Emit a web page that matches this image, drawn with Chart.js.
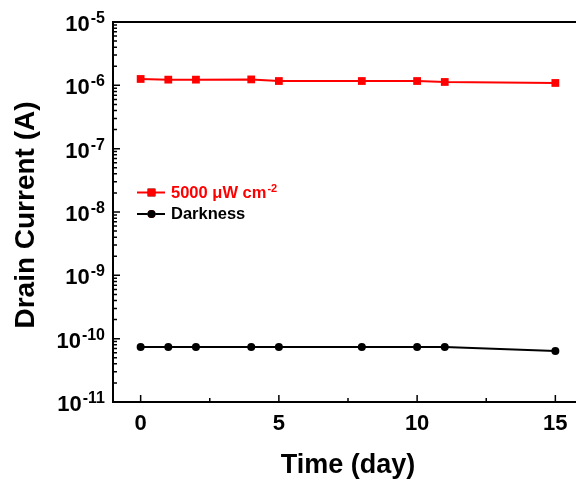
<!DOCTYPE html>
<html>
<head>
<meta charset="utf-8">
<script src="https://cdn.jsdelivr.net/npm/chart.js@4/dist/chart.umd.min.js"></script>
<style>
  html, body { margin: 0; padding: 0; background: #fff; overflow: hidden; }
  #wrap { width: 600px; height: 489px; }
</style>
</head>
<body>
<div id="wrap"><canvas id="myChart" width="600" height="489"></canvas></div>
<script>
// measured drain current over storage time
const days = [0, 1, 2, 4, 5, 8, 10, 11, 15];
const lightCurrent = [1.26e-6, 1.23e-6, 1.23e-6, 1.24e-6, 1.17e-6, 1.17e-6, 1.17e-6, 1.13e-6, 1.09e-6];
const darkCurrent = [7.4e-11, 7.4e-11, 7.4e-11, 7.4e-11, 7.4e-11, 7.4e-11, 7.4e-11, 7.4e-11, 6.4e-11];

const seriesNames = ['5000 μW cm', 'Darkness'];
const seriesSup = ['-2', ''];

const xTicks = [0, 5, 10, 15];
const xMinorTicks = [2.5, 7.5, 12.5];
const yExponents = [-5, -6, -7, -8, -9, -10, -11];

const FONT = '"Liberation Sans", Arial, sans-serif';

const ctx = document.getElementById('myChart').getContext('2d');

// axes, ticks, labels and legend drawn by hand (superscripts + inward ticks)
const axesPlugin = {
  id: 'axesPlugin',
  afterDraw(chart) {
    const c = chart.ctx;
    const area = chart.chartArea;
    const xs = chart.scales.x;
    const ys = chart.scales.y;
    c.save();
    c.strokeStyle = '#000';
    c.fillStyle = '#000';
    c.lineWidth = 2;
    c.strokeRect(area.left, area.top, area.right - area.left, area.bottom - area.top);

    // y ticks
    c.lineWidth = 1.5;
    c.beginPath();
    yExponents.forEach(e => {
      const y = ys.getPixelForValue(Math.pow(10, e));
      c.moveTo(area.left, y);
      c.lineTo(area.left + 7, y);
    });
    for (let e = -11; e < -5; e++) {
      for (let m = 2; m <= 9; m++) {
        const y = ys.getPixelForValue(m * Math.pow(10, e));
        c.moveTo(area.left, y);
        c.lineTo(area.left + 4, y);
      }
    }
    // x ticks
    xTicks.forEach(v => {
      const x = xs.getPixelForValue(v);
      c.moveTo(x, area.bottom);
      c.lineTo(x, area.bottom - 7);
    });
    xMinorTicks.forEach(v => {
      const x = xs.getPixelForValue(v);
      c.moveTo(x, area.bottom);
      c.lineTo(x, area.bottom - 4);
    });
    c.stroke();

    // y tick labels 10^n
    c.textBaseline = 'alphabetic';
    yExponents.forEach(e => {
      const y = ys.getPixelForValue(Math.pow(10, e));
      c.font = 'bold 22px ' + FONT;
      const wBase = c.measureText('10').width;
      c.font = 'bold 16px ' + FONT;
      const wExp = c.measureText(String(e)).width;
      const x0 = area.left - 8 - wBase - 1 - wExp;
      c.textAlign = 'left';
      c.font = 'bold 22px ' + FONT;
      c.fillText('10', x0, y + 9);
      c.font = 'bold 16px ' + FONT;
      c.fillText(String(e), x0 + wBase + 1, y + 1);
    });

    // x tick labels
    c.font = 'bold 22px ' + FONT;
    c.textAlign = 'center';
    xTicks.forEach(v => {
      c.fillText(String(v), xs.getPixelForValue(v), 430);
    });

    // axis titles
    c.font = 'bold 27px ' + FONT;
    c.fillText('Time (day)', (area.left + area.right) / 2, 473);
    c.save();
    c.translate(34, (area.top + area.bottom) / 2 + 3);
    c.rotate(-Math.PI / 2);
    c.font = 'bold 28px ' + FONT;
    c.fillText('Drain Current (A)', 0, 0);
    c.restore();

    // legend
    const rows = [192.5, 214];
    chart.data.datasets.forEach((ds, i) => {
      const y = rows[i];
      c.strokeStyle = ds.borderColor;
      c.lineWidth = 2;
      c.beginPath();
      c.moveTo(137, y);
      c.lineTo(165, y);
      c.stroke();
      Chart.helpers.drawPoint(c, {
        pointStyle: ds.pointStyle,
        radius: ds.pointRadius,
        borderWidth: 0
      }, 151.5, y);
      c.fillStyle = ds.borderColor;
      c.fill();
      c.textAlign = 'left';
      c.font = 'bold 16.5px ' + FONT;
      c.fillText(seriesNames[i], 171, y + 5);
      if (seriesSup[i]) {
        const w = c.measureText(seriesNames[i]).width;
        c.font = 'bold 11px ' + FONT;
        c.fillText(seriesSup[i], 171 + w + 1, y - 1);
      }
    });
    c.restore();
  }
};

const data = {
  datasets: [{
    label: seriesNames[0],
    data: days.map((d, i) => ({ x: d, y: lightCurrent[i] })),
    borderColor: '#ff0000',
    backgroundColor: '#ff0000',
    borderWidth: 2,
    pointStyle: 'rect',
    pointRadius: 5.5,
    pointBorderWidth: 0
  }, {
    label: seriesNames[1],
    data: days.map((d, i) => ({ x: d, y: darkCurrent[i] })),
    borderColor: '#000000',
    backgroundColor: '#000000',
    borderWidth: 2,
    pointStyle: 'circle',
    pointRadius: 4,
    pointBorderWidth: 0
  }]
};

const config = {
  type: 'line',
  data: data,
  options: {
    responsive: false,
    animation: false,
    layout: { padding: { left: 113, top: 22, right: 17, bottom: 87 } },
    plugins: { legend: { display: false }, tooltip: { enabled: false } },
    scales: {
      x: { type: 'linear', min: -1, max: 16, display: false },
      y: { type: 'logarithmic', min: 1e-11, max: 1e-5, display: false }
    }
  },
  plugins: [axesPlugin]
};

const myChart = new Chart(ctx, config);
</script>
</body>
</html>
